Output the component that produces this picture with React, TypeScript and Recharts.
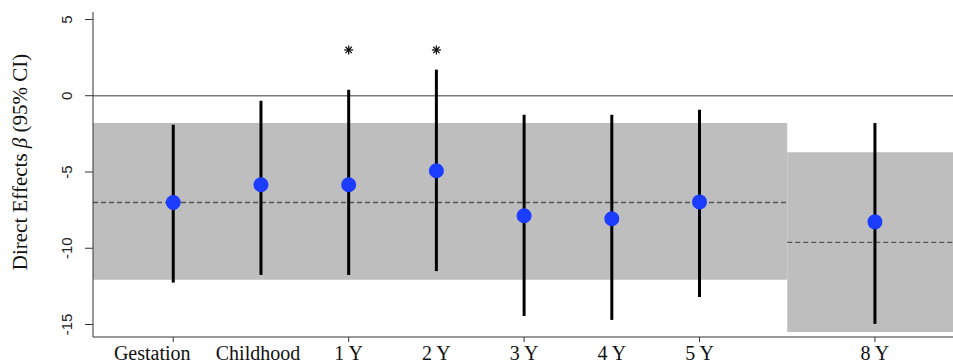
import React from "react";
import {
  ComposedChart,
  ErrorBar,
  ReferenceArea,
  ReferenceLine,
  Scatter,
  XAxis,
  YAxis,
} from "recharts";

const categories = ["Gestation", "Childhood", "1 Y", "2 Y", "3 Y", "4 Y", "5 Y", "8 Y"];
const positions = [1, 2, 3, 4, 5, 6, 7, 9];
const estimates = [-7.0, -5.84, -5.84, -4.92, -7.87, -8.07, -6.96, -8.27];
const lower = [-12.25, -11.75, -11.75, -11.5, -14.44, -14.7, -13.2, -14.96];
const upper = [-1.9, -0.33, 0.39, 1.71, -1.25, -1.25, -0.92, -1.79];
const significant = ["1 Y", "2 Y"];
const starLevel = 3;

// R only drew tick marks at the odd positions
const majorTicks = [1, 3, 5, 7, 9];
// the Gestation label sits a bit left of its tick in the original
const labelShift: Record<string, number> = { Gestation: -21, Childhood: -3 };

// pooled bands: before 8 Y and 8 Y
const X_MIN = 0.085;
const X_MAX = 9.89;
const bandFrom = [X_MIN, 8];
const bandTo = [8, X_MAX];
const bandLow = [-12.07, -15.5];
const bandHigh = [-1.79, -3.7];
const bandMean = [-7.0, -9.62];

const yTicks = [-15, -10, -5, 0, 5];

const points = categories.map((label, i) => ({
  label,
  x: positions[i],
  y: estimates[i],
  err: [estimates[i] - lower[i], upper[i] - estimates[i]],
}));

const stars = categories
  .map((label, i) => ({ label, x: positions[i], y: starLevel }))
  .filter((d) => significant.includes(d.label));

const labelFor = (v: number) => categories[positions.indexOf(v)] ?? "";

const Dot = (props: any) => <circle cx={props.cx} cy={props.cy} r={7.5} fill="#1c3cff" />;

const Star = (props: any) => {
  const { cx, cy } = props;
  const r = 4.5;
  const d = r * 0.707;
  return (
    <g stroke="#111" strokeWidth={1.3}>
      <line x1={cx - r} y1={cy} x2={cx + r} y2={cy} />
      <line x1={cx} y1={cy - r} x2={cx} y2={cy + r} />
      <line x1={cx - d} y1={cy - d} x2={cx + d} y2={cy + d} />
      <line x1={cx - d} y1={cy + d} x2={cx + d} y2={cy - d} />
    </g>
  );
};

const XTick = (props: any) => {
  const { x, y, payload } = props;
  const label = labelFor(payload.value);
  const isMajor = majorTicks.includes(payload.value);
  return (
    <g>
      {isMajor && <line x1={x} y1={y - 5} x2={x} y2={y} stroke="#333" />}
      <text
        x={x + (labelShift[label] ?? 0)}
        y={y + 18}
        textAnchor="middle"
        fontFamily="'Liberation Serif', serif"
        fontSize={20}
        fill="#111"
      >
        {label}
      </text>
    </g>
  );
};

const YTick = (props: any) => {
  const { y, payload } = props;
  const x = 72;
  return (
    <text
      x={x}
      y={y}
      transform={`rotate(-90, ${x}, ${y})`}
      textAnchor="middle"
      fontFamily="'Liberation Sans', Arial, sans-serif"
      fontSize={15}
      fill="#222"
    >
      {payload.value}
    </text>
  );
};

export default function App() {
  return (
    <div style={{ position: "absolute", left: 0, top: 0, width: 953, height: 362, background: "#fff" }}>
      <ComposedChart width={953} height={362} margin={{ top: 12, right: 0, bottom: 0, left: 33 }}>
        <XAxis
          type="number"
          dataKey="x"
          domain={[X_MIN, X_MAX]}
          allowDataOverflow
          ticks={positions}
          tick={<XTick />}
          tickSize={5}
          tickMargin={0}
          height={25}
          axisLine={{ stroke: "#333" }}
          tickLine={false}
        />
        <YAxis
          type="number"
          dataKey="y"
          domain={[-15.82, 5.49]}
          allowDataOverflow
          ticks={yTicks}
          tick={<YTick />}
          tickSize={8}
          width={60}
          axisLine={{ stroke: "#333" }}
          tickLine={{ stroke: "#333" }}
          label={{
            content: () => (
              <text
                x={27}
                y={162}
                transform="rotate(-90, 27, 162)"
                textAnchor="middle"
                fontFamily="'Liberation Serif', serif"
                fontSize={21}
                fill="#111"
              >
                Direct Effects <tspan fontStyle="italic">β</tspan> (95% CI)
              </text>
            ),
          }}
        />
        {bandFrom.map((x1, i) => (
          <ReferenceArea
            key={`band-${i}`}
            x1={x1}
            x2={bandTo[i]}
            y1={bandLow[i]}
            y2={bandHigh[i]}
            fill="#bebebe"
            fillOpacity={1}
            stroke="none"
          />
        ))}
        <ReferenceLine y={0} stroke="#7a7a7a" strokeWidth={1.5} />
        {bandFrom.map((x1, i) => (
          <ReferenceLine
            key={`mean-${i}`}
            segment={[
              { x: x1, y: bandMean[i] },
              { x: bandTo[i], y: bandMean[i] },
            ]}
            stroke="#555"
            strokeWidth={1.3}
            strokeDasharray="5 3"
          />
        ))}
        <Scatter data={points} dataKey="y" shape={<Dot />} isAnimationActive={false}>
          <ErrorBar dataKey="err" direction="y" width={0} stroke="#000" strokeWidth={3} isAnimationActive={false} />
        </Scatter>
        <Scatter data={stars} dataKey="y" shape={<Star />} isAnimationActive={false} />
      </ComposedChart>
    </div>
  );
}
